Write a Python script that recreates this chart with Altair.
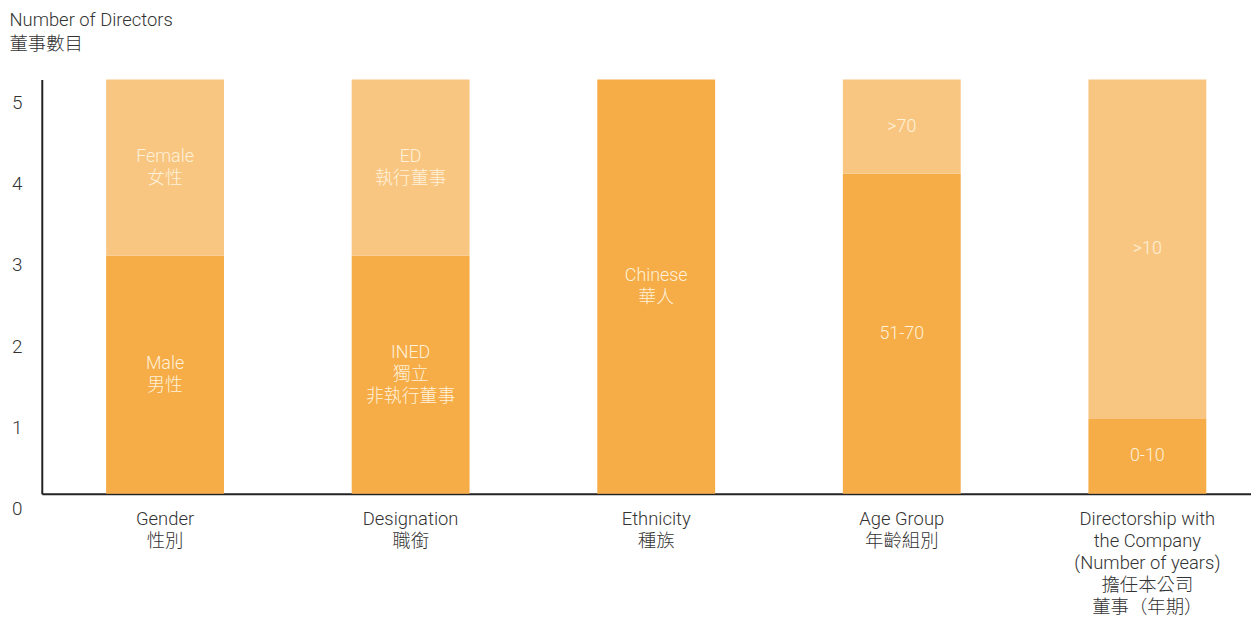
import altair as alt
import pandas as pd

# Categories (x-axis labels, "|" separates lines)
categories = [
    "Gender|性別",
    "Designation|職銜",
    "Ethnicity|種族",
    "Age Group|年齡組別",
    "Directorship with|the Company|(Number of years)|擔任本公司|董事（年期）",
]
# Lower (darker) segments
bottom_values = [2.93, 2.93, 5.1, 3.94, 0.92]
bottom_labels = ["Male\n男性", "INED\n獨立\n非執行董事", "Chinese\n華人", "51-70", "0-10"]
# Upper (lighter) segments
top_values = [2.17, 2.17, 0.0, 1.16, 4.18]
top_labels = ["Female\n女性", "ED\n執行董事", "", ">70", ">10"]

y_ticks = [0, 1, 2, 3, 4, 5]

rows = []
for i, c in enumerate(categories):
    rows.append({"category": c, "seg": "bottom", "order": 0, "value": bottom_values[i], "label": bottom_labels[i]})
    if top_values[i] > 0:
        rows.append({"category": c, "seg": "top", "order": 1, "value": top_values[i], "label": top_labels[i]})
df = pd.DataFrame(rows)

FONT = "Roboto, 'Noto Sans CJK TC', sans-serif"
DARK = "#F6AC47"
LIGHT = "#F9C681"
TXT = "#333333"
Y_MAX = 5.1
PLOT_H = 417
LINE_H = 22

x_scale = alt.Scale(paddingInner=0.52, paddingOuter=0.222, align=0.59)
y_scale = alt.Scale(domain=[0, Y_MAX], nice=False, zero=True)

x_axis = alt.Axis(
    title=None,
    labelAngle=0,
    ticks=False,
    grid=False,
    labelPadding=16,
    labelFontSize=18.5,
    labelLineHeight=22,
    labelFont=FONT,
    labelFontWeight=300,
    labelColor=TXT,
    labelExpr="split(datum.label, '|')",
    domainColor="#222222",
    domainWidth=2,
    labelLimit=300,
)

y_axis = alt.Axis(
    title=["Number of Directors", "董事數目"],
    titleAngle=0,
    titleAlign="left",
    titleBaseline="top",
    titleX=-33,
    titleY=-69,
    titleFont=FONT,
    titleFontSize=18.5,
    titleFontWeight=300,
    titleColor=TXT,
    titleLineHeight=24,
    values=y_ticks,
    format="d",
    ticks=False,
    grid=False,
    labelFont=FONT,
    labelFontSize=19,
    labelFontWeight=300,
    labelColor=TXT,
    labelPadding=20,
    labelOffset=15,
    labelBaseline="middle",
    domainColor="#222222",
    domainWidth=2,
)

base = alt.Chart(df).transform_stack(
    stack="value",
    groupby=["category"],
    sort=[alt.SortField("order", order="ascending")],
    as_=["y0", "y1"],
).transform_calculate(
    nlines="length(split(datum.label, '\\n'))",
).transform_calculate(
    mid=f"(datum.y0 + datum.y1) / 2 + (datum.nlines - 1) / 2 * {LINE_H} * {Y_MAX} / {PLOT_H}"
)

bars = base.mark_bar(strokeWidth=0).encode(
    x=alt.X("category:N", sort=categories, scale=x_scale, axis=x_axis),
    y=alt.Y("y0:Q", scale=y_scale, axis=y_axis),
    y2="y1:Q",
    color=alt.Color("seg:N", scale=alt.Scale(domain=["bottom", "top"], range=[DARK, LIGHT]), legend=None),
)

texts = base.mark_text(
    font=FONT,
    fontSize=18,
    fontWeight=300,
    color="#FFF1DA",
    lineBreak="\n",
    lineHeight=LINE_H,
    baseline="middle",
    align="center",
).encode(
    x=alt.X("category:N", sort=categories, scale=x_scale, axis=x_axis),
    y=alt.Y("mid:Q", scale=y_scale, axis=y_axis),
    text="label:N",
)

chart = (
    alt.layer(bars, texts)
    .properties(
        width=1217,
        height=PLOT_H,
        padding={"left": 34, "top": 70, "right": 0, "bottom": 122},
        autosize=alt.AutoSizeParams(type="none"),
        background="white",
    )
    .configure_view(strokeWidth=0, stroke=None)
    .configure_axis(grid=False)
)

chart.save("out.html", embed_options={"renderer": "svg", "actions": False})
